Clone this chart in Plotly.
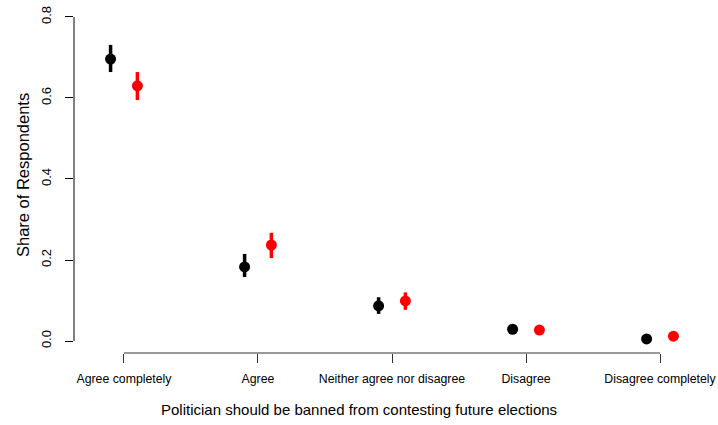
import plotly.graph_objects as go

categories = ["Agree completely", "Agree", "Neither agree nor disagree", "Disagree", "Disagree completely"]
black_mean = [0.696, 0.183, 0.087, 0.029, 0.005]
black_low = [0.664, 0.158, 0.067, 0.022, 0.002]
black_high = [0.731, 0.215, 0.108, 0.036, 0.008]
red_mean = [0.630, 0.237, 0.099, 0.027, 0.012]
red_low = [0.595, 0.205, 0.077, 0.021, 0.008]
red_high = [0.664, 0.267, 0.120, 0.033, 0.016]
yticks = [0.0, 0.2, 0.4, 0.6, 0.8]
x_title = "Politician should be banned from contesting future elections"
y_title = "Share of Respondents"

pos = list(range(1, len(categories) + 1))
offset = 0.1

def trace(mean, low, high, color, shift):
    return go.Scatter(
        x=[p + shift for p in pos], y=mean, mode="markers",
        marker=dict(color=color, size=11, line=dict(width=0)),
        error_y=dict(type="data", symmetric=False,
                     array=[h - m for h, m in zip(high, mean)],
                     arrayminus=[m - l for m, l in zip(mean, low)],
                     color=color, thickness=3.5, width=0),
        showlegend=False, hoverinfo="skip")

fig = go.Figure()
fig.add_trace(trace(black_mean, black_low, black_high, "black", -offset))
fig.add_trace(trace(red_mean, red_low, red_high, "red", offset))

# plot geometry in pixels (page body margin removed below)
L, T, W, H = 74, 4, 636, 349
FW, FH = 718, 425

def px(x, y):
    return (x - L) / W, (T + H - y) / H

font_family = "Liberation Sans, Arial, sans-serif"
fig.update_layout(
    width=FW, height=FH,
    margin=dict(l=L, r=FW - L - W, t=T, b=FH - T - H),
    paper_bgcolor="white", plot_bgcolor="white",
    font=dict(family=font_family, color="black"),
    xaxis=dict(range=[0.627, 5.373], tickvals=pos, ticktext=categories,
               ticks="outside", ticklen=9, tickcolor="#333", tickwidth=1,
               showgrid=False, zeroline=False, showline=False, automargin=False,
               ticklabelstandoff=5, ticklabeloverflow="allow",
               tickfont=dict(size=12.3)),
    yaxis=dict(range=[-0.0296, 0.832], tickvals=yticks,
               ticktext=[f"{v:.1f}" for v in yticks],
               ticks="outside", ticklen=8, tickcolor="black", tickwidth=1,
               tickangle=-90, showgrid=False, zeroline=False, showline=False,
               automargin=False, ticklabelstandoff=9, ticklabeloverflow="allow",
               tickfont=dict(size=13)),
)
fig.add_shape(type="line", xref="paper", yref="y", x0=0, x1=0, y0=0, y1=0.8,
              line=dict(color="black", width=1))
fig.add_shape(type="line", xref="x", yref="paper", x0=1, x1=5, y0=0, y1=0,
              line=dict(color="#333", width=1))
ax, ay = px(359, 409)
fig.add_annotation(text=x_title, xref="paper", yref="paper", x=ax, y=ay,
                   xanchor="center", yanchor="middle", showarrow=False, font=dict(size=15))
bx, by = px(23, 175)
fig.add_annotation(text=y_title, xref="paper", yref="paper", x=bx, y=by,
                   xanchor="center", yanchor="middle", showarrow=False, textangle=-90,
                   font=dict(size=16.5))

fig.write_html("out.html", config={"displayModeBar": False},
               post_script="document.body.style.margin='0';document.body.style.overflow='hidden';")
